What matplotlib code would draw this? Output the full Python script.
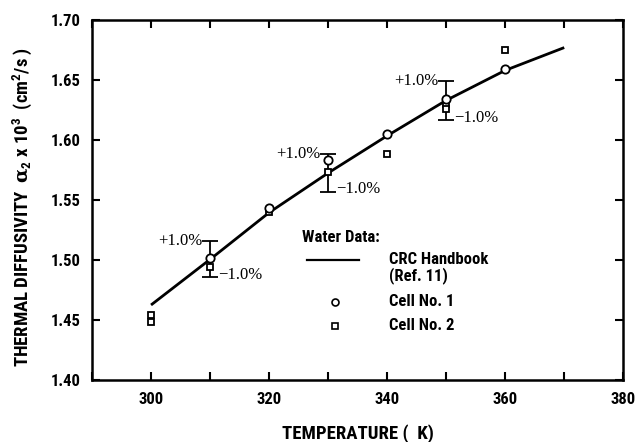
import numpy as np
import matplotlib
matplotlib.use("Agg")
import matplotlib.pyplot as plt
from matplotlib.ticker import MultipleLocator, FormatStrFormatter
import matplotlib.font_manager as fm

# ---- data ----
crc_temp = [300, 310, 320, 330, 340, 350, 360, 370]
crc_alpha = [1.4625, 1.5005, 1.5395, 1.5725, 1.6035, 1.6330, 1.6580, 1.6770]

cell1_temp = [310, 320, 330, 340, 350, 360]
cell1_alpha = [1.502, 1.543, 1.583, 1.605, 1.634, 1.659]

cell2_temp = [300, 300, 310, 320, 330, 340, 350, 350, 360]
cell2_alpha = [1.4542, 1.4486, 1.494, 1.540, 1.5736, 1.5886, 1.630, 1.626, 1.675]

err_temp = [310, 330, 350]
err_center = [1.5005, 1.5725, 1.6330]
err_pct = 0.01

avail_names = {f.name for f in fm.fontManager.ttflist}
main = 'Archivo Narrow'
for cand in ['Roboto Condensed', 'Barlow Semi Condensed', 'Barlow Condensed',
             'Sofia Sans Semi Condensed', 'Archivo Narrow']:
    if cand in avail_names:
        main = cand
        break
FAM = [main, 'DejaVu Sans']
plt.rcParams['font.family'] = FAM
plt.rcParams['font.weight'] = 'bold'
plt.rcParams['mathtext.fontset'] = 'custom'
plt.rcParams['mathtext.rm'] = main + ':bold'
plt.rcParams['mathtext.it'] = 'DejaVu Serif:bold'
plt.rcParams['mathtext.bf'] = main + ':bold'

fig = plt.figure(figsize=(6.35, 4.42), dpi=100)
ax = fig.add_axes([0.1449, 0.1403, 0.8366, 0.8145])

ax.plot(crc_temp, crc_alpha, color='black', lw=2.0, solid_capstyle='butt')
ax.errorbar(err_temp, err_center, yerr=[c * err_pct for c in err_center],
            fmt='none', ecolor='black', elinewidth=1.3, capsize=6, capthick=1.3)
ax.plot(cell2_temp, cell2_alpha, ls='none', marker='s', ms=5, mfc='white',
        mec='black', mew=1.3, zorder=4)
ax.plot(cell1_temp, cell1_alpha, ls='none', marker='o', ms=6, mfc='white',
        mec='black', mew=1.3, zorder=5)

# percentage annotations
pct_font = dict(family='Liberation Serif', fontsize=12, fontweight='normal', color='black')
for t, c in zip(err_temp, err_center):
    ax.text(t - 1.3, c * (1 + err_pct), '+1.0%', ha='right', va='center', **pct_font)
    ax.text(t + 1.4, c * (1 - err_pct) + 0.002, '\u22121.0%', ha='left', va='center', **pct_font)

# legend drawn manually
lf = dict(fontsize=12, fontweight='bold', color='black')
ax.text(325.5, 1.519, 'Water Data:', ha='left', va='center', **lf)
ax.plot([326.5, 335.3], [1.500, 1.500], color='black', lw=1.6)
ax.text(340.3, 1.500, 'CRC Handbook', ha='left', va='center', **lf)
ax.text(340.3, 1.4867, '(Ref. 11)', ha='left', va='center', **lf)
ax.plot([331.2], [1.465], ls='none', marker='o', ms=5, mfc='white', mec='black', mew=1.2)
ax.text(340.3, 1.465, 'Cell No. 1', ha='left', va='center', **lf)
ax.plot([331.2], [1.445], ls='none', marker='s', ms=4.5, mfc='white', mec='black', mew=1.2)
ax.text(340.3, 1.445, 'Cell No. 2', ha='left', va='center', **lf)

ax.set_xlim(290, 380)
ax.set_ylim(1.40, 1.70)
ax.xaxis.set_major_locator(MultipleLocator(20))
ax.xaxis.set_minor_locator(MultipleLocator(10))
ax.yaxis.set_major_locator(MultipleLocator(0.05))
ax.yaxis.set_major_formatter(FormatStrFormatter('%.2f'))
ax.tick_params(which='both', direction='in', top=True, right=True, length=6, width=1.5,
               labelsize=12)
ax.tick_params(which='major', axis='x', pad=9)
ax.tick_params(which='major', axis='y', pad=8)
for lab in ax.get_xticklabels() + ax.get_yticklabels():
    lab.set_fontweight('bold')
for s in ax.spines.values():
    s.set_linewidth(1.8)

ax.set_xlabel('TEMPERATURE (  K)', fontsize=13.5, fontweight='bold', labelpad=12)
ax.set_ylabel(r'THERMAL DIFFUSIVITY  $\alpha_2$ x 10$^3$  (cm$^2$/s )', fontsize=13.5,
              fontweight='bold')
ax.yaxis.set_label_coords(-0.11, 0.48)

fig.savefig('out.png', dpi=100)
